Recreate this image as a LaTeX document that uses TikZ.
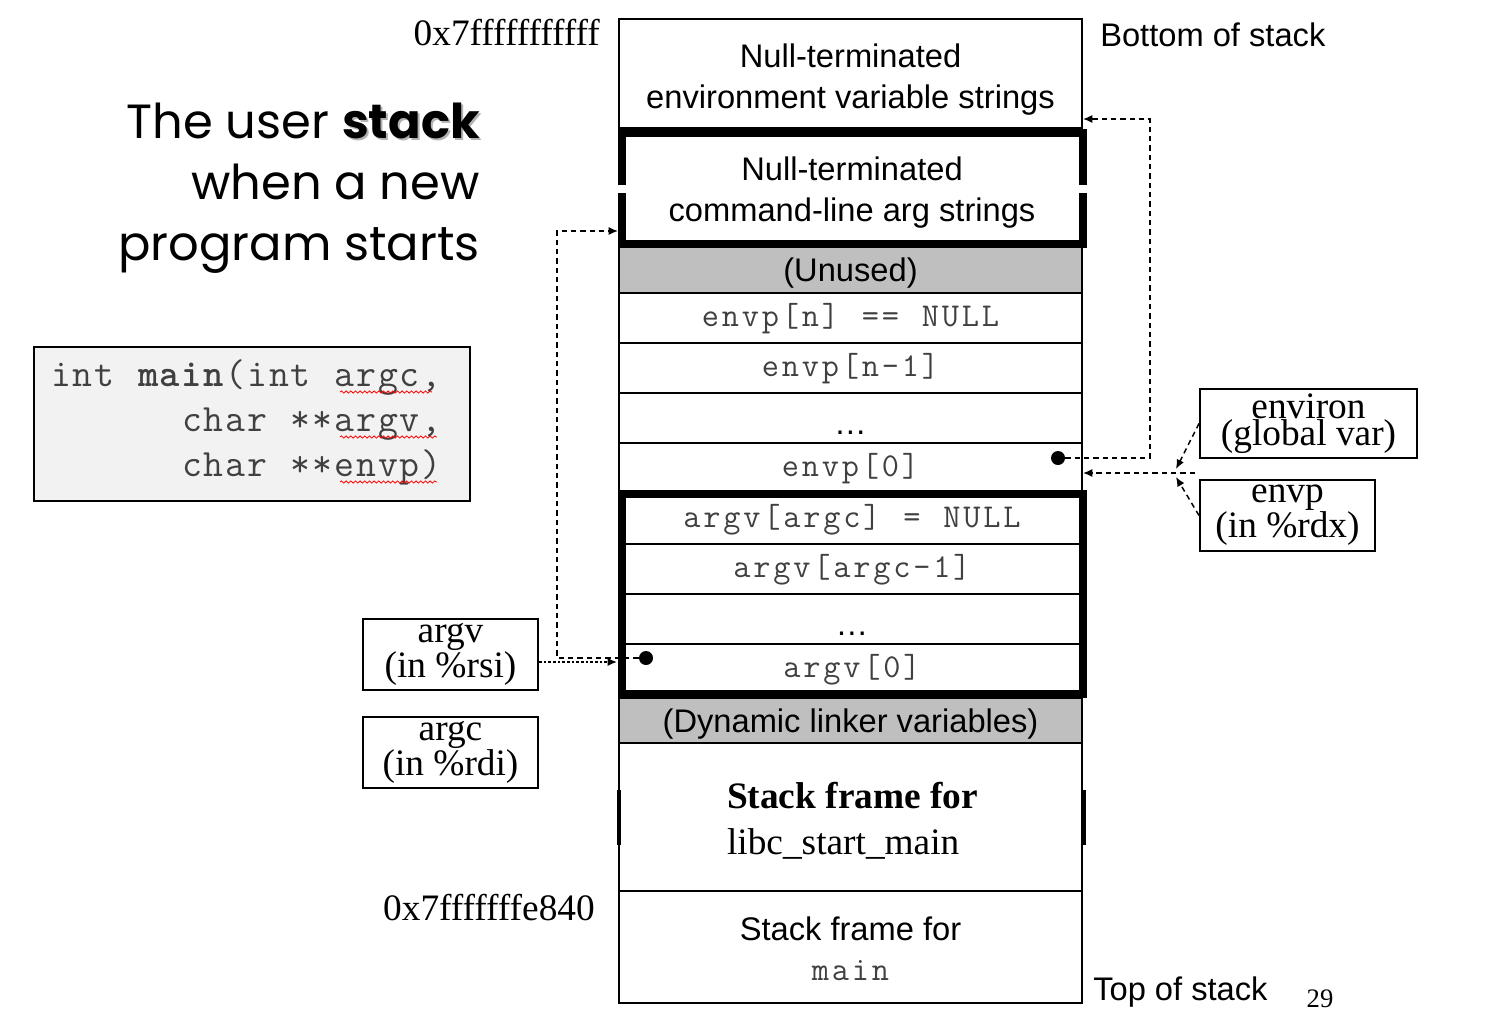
\documentclass[tikz,border=0pt]{standalone}
\usepackage{fontspec}
\usetikzlibrary{arrows.meta,decorations.pathmorphing}
\newfontfamily\ars{Liberation Sans}
\newfontfamily\tms{Liberation Serif}
\newfontfamily\ttl{Poppins}
\definecolor{cellgray}{HTML}{BFBFBF}
\definecolor{codebg}{HTML}{F2F2F2}
\definecolor{monogray}{HTML}{404040}
\newcommand\shadowword[1]{\rlap{\textcolor{black!30}{\kern1.5pt\raisebox{-1.5pt}{#1}}}#1}
\makeatletter
\newcommand\spacedtt[2]{\def\sp@w{#1}\@tfor\sp@c:=#2\do{\makebox[\sp@w]{\sp@c}}}
\makeatother
\newcommand\cellmono{\ttfamily\fontsize{25}{28}\selectfont}
\newcommand\cm[1]{\spacedtt{15pt}{#1}}
\newcommand\cd[1]{\spacedtt{16.35pt}{#1}}
\newcommand\ellip{\raisebox{-6pt}[0pt][0pt]{\ars\fontsize{24.5}{28}\selectfont\color{black}\char"2026}}
\tikzset{
  cell/.style={draw, line width=1.5pt, minimum width=347.25pt, inner sep=0pt, outer sep=0pt},
  graycell/.style={cell, fill=cellgray},
  celltext/.style={inner sep=0pt, align=center, font=\ars\fontsize{24.5}{30.75}\selectfont},
  monocell/.style={cell, minimum height=37.5pt, text=monogray, font=\cellmono, text height=17pt, text depth=4pt},
  thickbox/.style={draw, line width=6pt, minimum width=345.75pt, inner sep=0pt, outer sep=0pt},
  lblbox/.style={draw, line width=1.5pt, inner sep=0pt, align=center, font=\tms\fontsize{28}{20.5}\selectfont},
  ptr/.style={circle, fill=black, inner sep=0pt, minimum size=10.5pt},
  dasharrow/.style={dash pattern=on 4pt off 3pt, line width=1.1pt, -{Latex[length=7pt,width=6pt]}},
  dotarrow/.style={dash pattern=on 2pt off 1.5pt, line width=1.1pt, -{Latex[length=7pt,width=6pt]}},
  squig/.style={red, line width=0.6pt, decorate, decoration={snake, amplitude=0.8pt, segment length=3.5pt}},
  plain/.style={inner sep=0pt}
}
\begin{document}
\begin{tikzpicture}[x=0.75pt,y=-0.75pt]
\useasboundingbox[fill=white] (0,0) rectangle (1502,1032);

% title
\node[plain, anchor=east, align=right, font=\ttl\fontsize{36}{45.75}\selectfont] (title) at (480,188)
  {The user {\bfseries\shadowword{stack}}\\when a new\\program starts};

% code box
\node[draw, line width=1.5pt, fill=codebg, minimum width=327pt, minimum height=115.5pt] (code) at (252,424) {};
\node[plain, anchor=west, align=left, text=monogray, font=\ttfamily\fontsize{29}{33.75}\selectfont] (codetxt) at (50,422)
  {\cd{int~}{\bfseries\cd{main}}\cd{(int~argc,}\\\cd{~~~~~~char~**argv,}\\\cd{~~~~~~char~**envp)}};
\draw[squig] (340,392) -- (432,392);
\draw[squig] (340,437) -- (437,437);
\draw[squig] (340,482) -- (437,482);

% stack cells
\node[cell, minimum height=81.75pt] (envstr) at (850.5,73.5) {};
\node[celltext] (envstrtxt) at (850.5,79.5) {Null-terminated\\environment variable strings};
\node[cell, draw=none, minimum height=83.25pt] (argstr) at (852,188) {};
\node[celltext] (argstrtxt) at (852,193) {Null-terminated\\command-line arg strings};
\node[graycell, minimum height=34.5pt] (unused) at (850.5,270) {};
\node[celltext] (unusedtxt) at (850.5,273) {(Unused)};
\node[monocell] (envpn) at (850.5,318) {\cm{envp[n]~==~NULL}};
\node[monocell] (envpn1) at (850.5,368) {\cm{envp[n-1]}};
\node[monocell] (envpdots) at (850.5,418) {\ellip};
\node[monocell] (envp0) at (850.5,468) {\cm{envp[0]}};
\node[monocell, minimum width=345.75pt] (argvn) at (852,519) {\cm{argv[argc]~=~NULL}};
\node[monocell, minimum width=345.75pt] (argvm1) at (852,569) {\cm{argv[argc-1]}};
\node[monocell, minimum width=345.75pt] (argvdots) at (852,619) {\ellip};
\node[monocell, minimum width=345.75pt] (argv0) at (852,669) {\cm{argv[0]}};
\node[graycell, minimum height=33.75pt] (dyn) at (850.5,720.5) {};
\node[celltext] (dyntxt) at (850.5,724.5) {(Dynamic linker variables)};
\node[cell, minimum height=111pt] (libc) at (850.5,817) {};
\node[celltext, align=left, font=\tms\fontsize{28}{34.5}\selectfont] (libctxt) at (852.5,821)
  {\textbf{Stack frame for}\\libc\_start\_main};
\node[cell, minimum height=84pt] (mainf) at (850.5,947) {};
\node[celltext, font=\ars\fontsize{24.5}{30}\selectfont] (mainftxt) at (850.5,949)
  {Stack frame for\\{\cellmono\color{monogray}\cm{main}}};

% thick boxes
\node[thickbox, minimum height=83.25pt] (argbox) at (852,188) {};
\fill[white] (614,185) rectangle (629,193);
\fill[white] (1075,185) rectangle (1090,193);
\node[thickbox, minimum height=150pt] (argvbox) at (852,594) {};
\draw[line width=3pt] (619,790) -- (619,845);
\draw[line width=3pt] (1084,790) -- (1084,845);

% address / side labels
\node[plain, anchor=east, font=\tms\fontsize{28}{30}\selectfont] (addrtop) at (600,33) {0x7fffffffffff};
\node[plain, anchor=east, font=\tms\fontsize{28}{30}\selectfont] (addrbot) at (595,908) {0x7fffffffe840};
\node[plain, anchor=west, font=\ars\fontsize{24.5}{30}\selectfont] (bottom) at (1100,35) {Bottom of stack};
\node[plain, anchor=west, font=\ars\fontsize{24.5}{30}\selectfont] (top) at (1093,992) {Top of stack};
\node[plain, font=\tms\fontsize{20}{22}\selectfont] (pagenum) at (1320,999) {29};

% register boxes
\node[lblbox, minimum width=162.75pt, minimum height=51.75pt] (environ) at (1308.5,423.5) {environ\\(global var)};
\node[lblbox, minimum width=131.25pt, minimum height=53.25pt] (envpreg) at (1287.5,515.5) {envp\\(in \%rdx)};
\node[lblbox, minimum width=131.25pt, minimum height=53.25pt] (argvreg) at (450.5,654.5) {argv\\(in \%rsi)};
\node[lblbox, minimum width=131.25pt, minimum height=53.25pt] (argcreg) at (450.5,752.5) {argc\\(in \%rdi)};

% pointer dots
\node[ptr] (envdot) at (1058,458) {};
\node[ptr] (argvdot) at (646,658) {};

% connector end points
\coordinate (envtip) at (1083,119);
\coordinate (envbend1) at (1150,458);
\coordinate (envbend2) at (1150,119);
\coordinate (argtip) at (618,231);
\coordinate (argbend1) at (557,658);
\coordinate (argbend2) at (557,231);
\coordinate (regtip) at (1083,473);
\coordinate (regjoin) at (1195,473);
\coordinate (envirtip) at (1176,469);
\coordinate (envptip) at (1176,477);
\coordinate (argvtip) at (617,662);

% connectors
\draw[dasharrow] (envdot.east) -- (envbend1) -- (envbend2) -- (envtip);
\draw[dasharrow] (argvdot.west) -- (argbend1) -- (argbend2) -- (argtip);
\draw[dasharrow] (regjoin) -- (regtip);
\draw[dasharrow] (environ.west) -- (envirtip);
\draw[dasharrow] (envpreg.west) -- (envptip);
\draw[dotarrow] (argvreg.east |- argvtip) -- (argvtip);
\end{tikzpicture}
\end{document}
